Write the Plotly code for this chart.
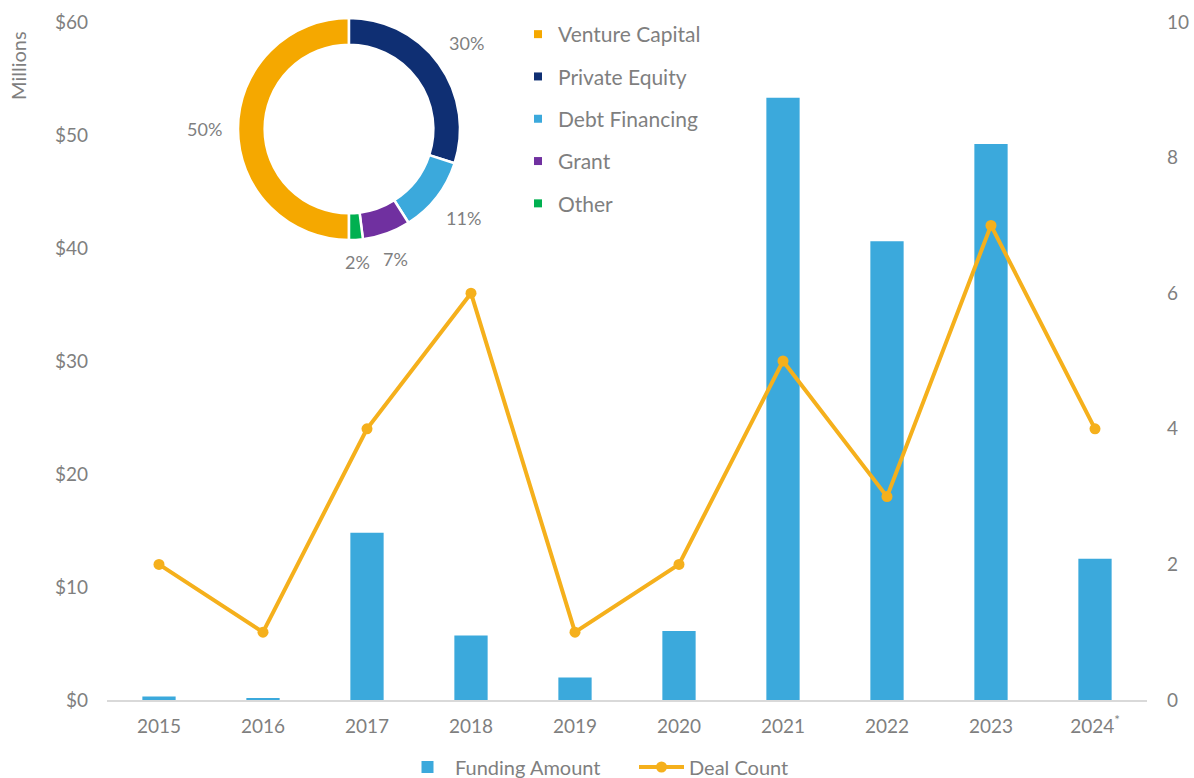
import math
import plotly.graph_objects as go

# Annual funding and deal activity
years = ["2015", "2016", "2017", "2018", "2019", "2020", "2021", "2022", "2023", "2024<sup>*</sup>"]
funding_musd = [0.3, 0.1, 14.8, 5.7, 2.0, 6.1, 53.3, 40.6, 49.2, 12.5]
deal_count = [2, 1, 4, 6, 1, 2, 5, 3, 7, 4]

# Funding mix by source (% of total)
source_labels = ["Venture Capital", "Private Equity", "Debt Financing", "Grant", "Other"]
source_share = [50, 30, 11, 7, 2]
source_colors = ["#F5A800", "#0F2F73", "#3BA9DC", "#7030A0", "#00B050"]

FONT = "Lato"
GREY = "#7F7F7F"
BAR_BLUE = "#3BA9DC"
LINE_ORANGE = "#F5B01C"

W, H = 1194, 778
ML, MR, MT, MB = 107, 47, 10, 78
PW, PH = W - ML - MR, H - MT - MB
PLOT_TOP = 22  # pixel row of the $60 level

# donut placement (pixels)
DONUT_CX, DONUT_CY, DONUT_R = 349, 129, 111
DONUT_START = 180  # first slice starts at 6 o'clock, running clockwise


def px_x(x):
    return (x - ML) / PW


def px_y(y):
    return (H - MB - y) / PH


fig = go.Figure()

fig.add_trace(go.Bar(
    x=years, y=funding_musd, name="Funding Amount",
    marker=dict(color=BAR_BLUE, line=dict(width=0)),
    width=0.32, legend="legend", yaxis="y",
))

fig.add_trace(go.Scatter(
    x=years, y=deal_count, name="Deal Count", mode="lines+markers",
    line=dict(color=LINE_ORANGE, width=4),
    marker=dict(color=LINE_ORANGE, size=11),
    legend="legend", yaxis="y2",
))

fig.add_trace(go.Pie(
    labels=source_labels, values=source_share,
    marker=dict(colors=source_colors, line=dict(color="white", width=2.5)),
    hole=0.76, sort=False, direction="clockwise", rotation=DONUT_START,
    textinfo="none", showlegend=False, hoverinfo="label+percent",
    domain=dict(x=[px_x(DONUT_CX - DONUT_R), px_x(DONUT_CX + DONUT_R)],
                y=[px_y(DONUT_CY + DONUT_R), px_y(DONUT_CY - DONUT_R)]),
))

# legend entries for the donut slices, one group each so they can be spaced out
for lab, col in zip(source_labels, source_colors):
    fig.add_trace(go.Scatter(
        x=[None], y=[None], mode="markers", name=lab, legendgroup=lab,
        marker=dict(symbol="square", size=8, color=col),
        legend="legend2", showlegend=True, hoverinfo="skip",
    ))

# percentage labels around the donut, placed at each slice's mid-angle
annotations = []
total = sum(source_share)
acc = 0.0
for share in source_share:
    mid = DONUT_START + 360.0 * (acc + share / 2) / total
    acc += share
    th = math.radians(mid)
    s, c = math.sin(th), math.cos(th)
    ext = abs(s) * 21 + abs(c) * 8
    d = DONUT_R + 13 + ext
    lx, ly = DONUT_CX + d * s, DONUT_CY - d * c
    annotations.append(dict(
        text=f"{share}%", xref="paper", yref="paper", x=px_x(lx), y=px_y(ly),
        xanchor="center", yanchor="middle", showarrow=False,
        font=dict(size=18, color=GREY),
    ))

annotations.append(dict(
    text="Millions", textangle=-90, xref="paper", yref="paper",
    x=px_x(18), y=px_y(66), xanchor="center", yanchor="middle",
    showarrow=False, font=dict(size=20, color=GREY),
))

fig.update_layout(
    width=W, height=H, autosize=False,
    margin=dict(l=ML, r=MR, t=MT, b=MB, autoexpand=False),
    paper_bgcolor="white", plot_bgcolor="white",
    font=dict(family=FONT, color=GREY, size=18),
    xaxis=dict(
        type="category", categoryorder="array", categoryarray=years,
        range=[-0.5, len(years) - 0.5], autorange=False,
        showgrid=False, zeroline=False,
        showline=True, linecolor="#D9D9D9", linewidth=1.5,
        ticks="", tickfont=dict(size=19, color=GREY), ticklabelstandoff=8,
    ),
    yaxis=dict(
        range=[0, 60], dtick=10, tickprefix="$", showgrid=False, zeroline=False,
        showline=False, ticks="", tickfont=dict(size=19, color=GREY),
        domain=[0, px_y(PLOT_TOP)], ticklabelstandoff=18,
    ),
    yaxis2=dict(
        range=[0, 10], dtick=2, overlaying="y", side="right", showgrid=False,
        zeroline=False, showline=False, ticks="", tickfont=dict(size=19, color=GREY),
        ticklabelstandoff=19,
    ),
    legend=dict(
        orientation="h", x=px_x(400), xanchor="left", y=px_y(767), yanchor="middle",
        font=dict(size=20, color=GREY), bgcolor="rgba(0,0,0,0)",
        itemwidth=45, entrywidth=174, traceorder="normal",
    ),
    legend2=dict(
        x=px_x(518), xanchor="left", y=px_y(14), yanchor="top",
        font=dict(size=21, color=GREY), bgcolor="rgba(0,0,0,0)",
        itemwidth=30, tracegroupgap=12, traceorder="grouped",
    ),
    annotations=annotations,
)

fig.write_html("out.html")
